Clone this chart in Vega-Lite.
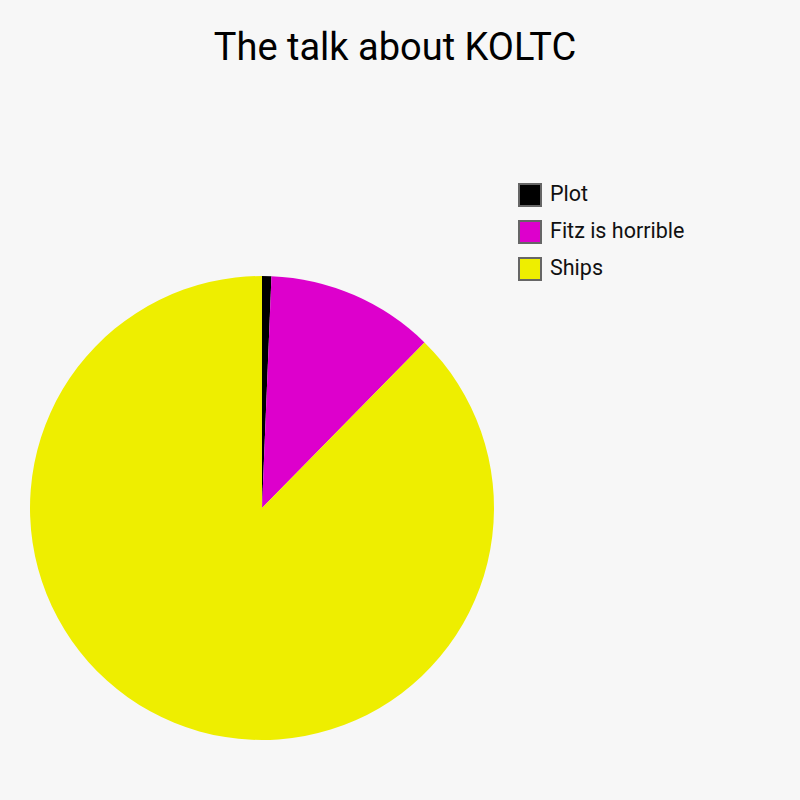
{
  "$schema": "https://vega.github.io/schema/vega-lite/v6.json",
  "autosize": {"type": "none"},
  "width": 464,
  "height": 464,
  "padding": {"left": 30, "top": 276, "right": 306, "bottom": 60},
  "background": "#f7f7f7",
  "title": {
    "text": "The talk about KOLTC",
    "font": "Roboto",
    "fontSize": 38,
    "fontWeight": "normal",
    "color": "#000000",
    "anchor": "middle",
    "baseline": "alphabetic",
    "dx": 133,
    "offset": 85
  },
  "data": {
    "values": [
      {"topic": "Plot", "share": 0.65, "rank": 1},
      {"topic": "Fitz is horrible", "share": 11.7, "rank": 2},
      {"topic": "Ships", "share": 87.65, "rank": 3}
    ]
  },
  "mark": {"type": "arc", "stroke": null},
  "encoding": {
    "theta": {"field": "share", "type": "quantitative", "stack": true},
    "order": {"field": "rank", "type": "quantitative"},
    "color": {
      "field": "topic",
      "type": "nominal",
      "sort": ["Plot", "Fitz is horrible", "Ships"],
      "scale": {
        "domain": ["Plot", "Fitz is horrible", "Ships"],
        "range": ["#000000", "#dd00cc", "#eeee00"]
      },
      "legend": {
        "title": null,
        "orient": "none",
        "legendX": 488,
        "legendY": -93,
        "symbolType": "square",
        "symbolSize": 484,
        "symbolStrokeColor": "#666666",
        "symbolStrokeWidth": 2,
        "symbolOpacity": 1,
        "labelFont": "Roboto",
        "labelFontSize": 21.5,
        "labelColor": "#111111",
        "labelOffset": 8,
        "rowPadding": 7,
        "padding": 0
      }
    }
  },
  "config": {
    "view": {"stroke": null}
  }
}
